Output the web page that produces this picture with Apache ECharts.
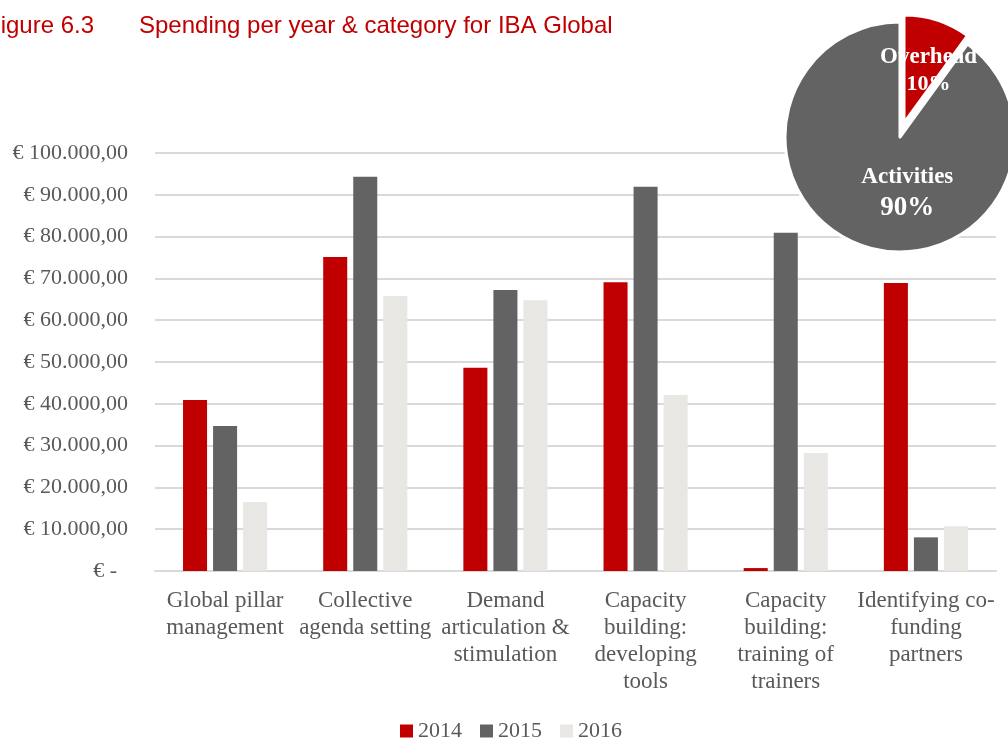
<!DOCTYPE html>
<html>
<head>
<meta charset="utf-8">
<script src="https://cdn.jsdelivr.net/npm/echarts@6/dist/echarts.min.js"></script>
<style>
  html, body { margin: 0; padding: 0; background: #fff; }
  #chart { width: 1008px; height: 740px; }
</style>
</head>
<body>
<div id="chart"></div>
<script>
// Spending per category, one array per year (EUR)
const categories = [
  'Global pillar\nmanagement',
  'Collective\nagenda setting',
  'Demand\narticulation &\nstimulation',
  'Capacity\nbuilding:\ndeveloping\ntools',
  'Capacity\nbuilding:\ntraining of\ntrainers',
  'Identifying co-\nfunding\npartners'
];
const years = ['2014', '2015', '2016'];
const spend2014 = [40900, 75100, 48600, 69100, 700, 68900];
const spend2015 = [34700, 94300, 67200, 91900, 80900, 8050];
const spend2016 = [16500, 65800, 64800, 42100, 28200, 10700];

// Overall split of spending
const splitNames = ['Overhead', 'Activities'];
const splitValues = [10, 90];

const yearColors = ['#C00000', '#636363', '#E8E7E3'];
const splitColors = ['#C00000', '#636363'];
const serif = '"Liberation Serif", "DejaVu Serif", serif';
const sans = '"Liberation Sans", Arial, sans-serif';
const textGray = '#595959';

function euro(v) {
  if (v === 0) return '€ -  ';
  const s = String(Math.round(v)).replace(/\B(?=(\d{3})+(?!\d))/g, '.');
  return '€ ' + s + ',00';
}

const chart = echarts.init(document.getElementById('chart'), null, { renderer: 'canvas' });

const barSeries = [spend2014, spend2015, spend2016].map((vals, i) => ({
  name: years[i],
  type: 'bar',
  data: vals,
  barGap: '25%',
  barCategoryGap: '40%',
  itemStyle: { color: yearColors[i] },
  emphasis: { disabled: true }
}));

// The split pie is drawn as two layers: the main body and the pulled-out slice.
const pieRich = [
  { n: { fontFamily: serif, fontWeight: 'bold', fontSize: 23, color: '#fff', lineHeight: 27 },
    p: { fontFamily: serif, fontWeight: 'bold', fontSize: 22, color: '#fff', lineHeight: 27 } },
  { n: { fontFamily: serif, fontWeight: 'bold', fontSize: 23, color: '#fff', lineHeight: 30 },
    p: { fontFamily: serif, fontWeight: 'bold', fontSize: 27, color: '#fff', lineHeight: 30 } }
];

function splitLayer(shownIndex, center, radius, shift) {
  return {
    name: 'Split',
    type: 'pie',
    center: center,
    radius: [0, radius],
    startAngle: 90,
    clockwise: true,
    silent: true,
    emphasis: { disabled: true },
    labelLine: { show: false },
    labelLayout: { dx: shift[0], dy: shift[1] },
    data: splitNames.map((n, i) => {
      const shown = i === shownIndex;
      return {
        name: n,
        value: splitValues[i],
        itemStyle: shown
          ? { color: splitColors[i], borderColor: '#FFFFFF', borderWidth: 3 }
          : { color: 'rgba(0,0,0,0)', borderWidth: 0 },
        label: shown
          ? { show: true, position: 'inside', formatter: '{n|{b}}\n{p|{d}%}', rich: pieRich[i] }
          : { show: false }
      };
    })
  };
}

chart.setOption({
  animation: false,
  title: [
    {
      text: 'Figure 6.3',
      left: -19, top: 9,
      textStyle: { fontFamily: sans, fontSize: 24, fontWeight: 'normal', color: '#C00000' }
    },
    {
      text: 'Spending per year & category for IBA Global',
      left: 134, top: 9,
      textStyle: { fontFamily: sans, fontSize: 24, fontWeight: 'normal', color: '#C00000' }
    }
  ],
  grid: { left: 155, right: 12, top: 153, bottom: 169, containLabel: false },
  legend: {
    data: years,
    bottom: -7,
    left: 395,
    icon: 'rect',
    itemWidth: 13,
    itemHeight: 13,
    itemGap: 18,
    textStyle: { fontFamily: serif, fontSize: 22, color: textGray }
  },
  xAxis: {
    type: 'category',
    data: categories,
    axisLine: { lineStyle: { color: '#D9D9D9', width: 2 } },
    axisTick: { show: false },
    axisLabel: {
      interval: 0,
      margin: 16,
      fontFamily: serif,
      fontSize: 23,
      lineHeight: 27,
      color: textGray,
      align: 'center'
    }
  },
  yAxis: {
    type: 'value',
    min: 0,
    max: 100000,
    interval: 10000,
    axisLine: { show: false },
    axisTick: { show: false },
    splitLine: { lineStyle: { color: '#D9D9D9', width: 2 } },
    axisLabel: {
      margin: 27,
      fontFamily: serif,
      fontSize: 22,
      color: textGray,
      formatter: euro
    }
  },
  series: barSeries.concat([
    splitLayer(1, [900, 137], 115, [26, -2]),
    splitLayer(0, [904, 123], 108, [7, 2])
  ])
});
</script>
</body>
</html>
